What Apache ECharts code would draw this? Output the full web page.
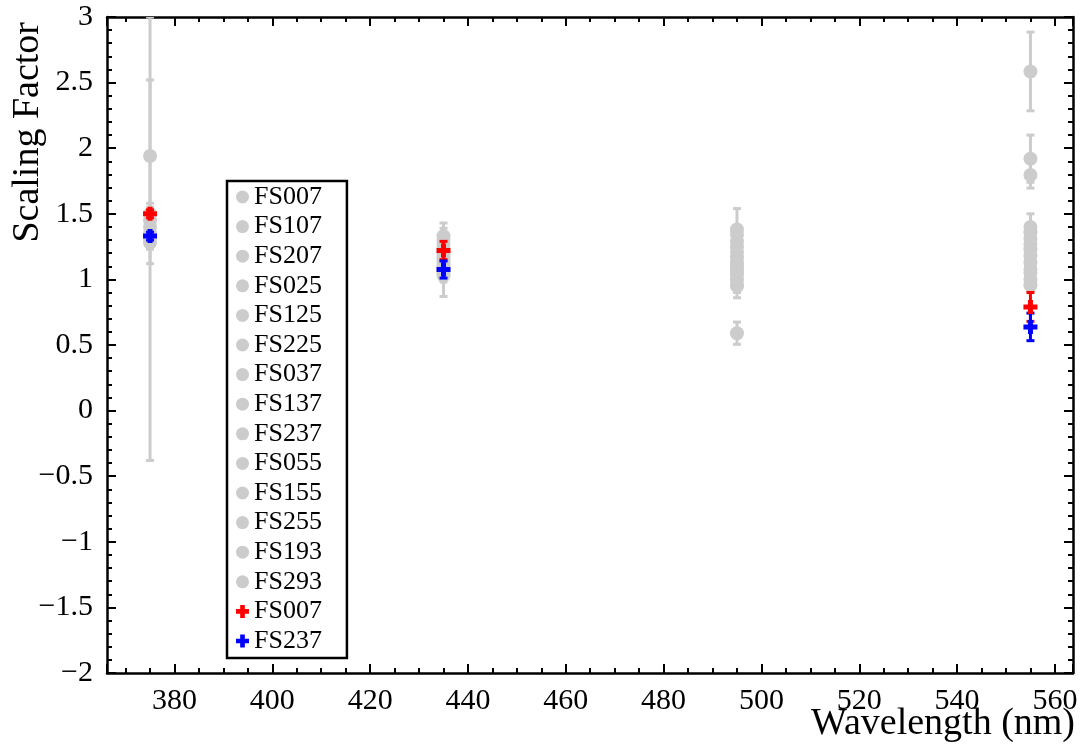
<!DOCTYPE html>
<html>
<head>
<meta charset="utf-8">
<script src="https://cdn.jsdelivr.net/npm/echarts@6/dist/echarts.min.js"></script>
<style>
  html, body { margin: 0; padding: 0; background: #fff; }
  #chart { width: 1083px; height: 747px; }
</style>
</head>
<body>
<div id="chart"></div>
<script>
// Wavelengths of the four filters (nm)
const wavelengths = [375, 435, 495, 555];

// Individual field scaling factors, one value per wavelength (null = no measurement)
const grayNames = ['FS007', 'FS107', 'FS207', 'FS025', 'FS125', 'FS225', 'FS037',
                   'FS137', 'FS237', 'FS055', 'FS155', 'FS255', 'FS193', 'FS293'];
const grayValues = [
  [1.50, 1.30, 1.21, 1.31],
  [1.94, 1.33, 1.38, 2.585],
  [1.45, 1.27, 1.29, 1.36],
  [1.31, 1.15, 1.34, 1.92],
  [1.40, 1.24, 1.17, 1.27],
  [1.35, 1.20, 0.59, 1.796],
  [1.28, 1.10, 1.10, 1.23],
  [null, 1.13, 1.25, 1.40],
  [1.33, 1.07, 1.04, 1.18],
  [null, 1.05, 0.96, 1.13],
  [null, 1.03, 1.07, 1.08],
  [null, 1.17, 1.13, 1.05],
  [null, null, 1.00, 1.00],
  [null, null, 0.95, 0.955]
];
const grayErrors = [
  [0.05, 0.05, 0.06, 0.07],
  [0.58, 0.06, 0.16, 0.30],
  [0.06, 0.05, 0.06, 0.07],
  [1.69, 0.28, 0.07, 0.18],
  [0.05, 0.05, 0.06, 0.07],
  [0.23, 0.05, 0.085, 0.10],
  [0.05, 0.05, 0.06, 0.07],
  [null, 0.05, 0.06, 0.10],
  [0.05, 0.05, 0.06, 0.07],
  [null, 0.05, 0.10, 0.07],
  [null, 0.05, 0.06, 0.07],
  [null, 0.06, 0.06, 0.06],
  [null, null, 0.06, 0.05],
  [null, null, 0.05, 0.04]
];

// Combined fits for two reference fields
const redName = 'FS007';
const redValues = [1.50, 1.22, null, 0.79];
const redErrors = [0.03, 0.07, null, 0.11];
const blueName = 'FS237';
const blueValues = [1.33, 1.075, null, 0.638];
const blueErrors = [0.03, 0.065, null, 0.105];

// Axis ranges
const xRange = [366.2, 563.7];
const yRange = [-2, 3];

const FONT = 'Liberation Serif';
const GRAY = '#cccccc';
const PLUS = 'path://M4.5,0H9.5V4.5H14V9.5H9.5V14H4.5V9.5H0V4.5H4.5Z';

function points(vals) {
  return wavelengths.map((w, i) => vals[i] == null ? null : [w, vals[i]]).filter(Boolean);
}
function bars(vals, errs) {
  return wavelengths.map((w, i) => vals[i] == null ? null : [w, vals[i] - errs[i], vals[i] + errs[i]]).filter(Boolean);
}
function errorBarRenderer(color, width, capHalf) {
  return function (params, api) {
    const x = api.value(0);
    const top = api.coord([x, api.value(2)]);
    const bot = api.coord([x, api.value(1)]);
    const style = { stroke: color, lineWidth: width };
    return {
      type: 'group',
      children: [
        { type: 'line', shape: { x1: top[0], y1: top[1], x2: bot[0], y2: bot[1] }, style },
        { type: 'line', shape: { x1: top[0] - capHalf, y1: top[1], x2: top[0] + capHalf, y2: top[1] }, style },
        { type: 'line', shape: { x1: bot[0] - capHalf, y1: bot[1], x2: bot[0] + capHalf, y2: bot[1] }, style }
      ]
    };
  };
}

const series = [];
grayNames.forEach((name, k) => {
  series.push({
    type: 'custom', name: name + '-err', silent: true, clip: true, z: 2,
    renderItem: errorBarRenderer(GRAY, 3, 4),
    encode: { x: 0, y: [1, 2] },
    data: bars(grayValues[k], grayErrors[k])
  });
  series.push({
    type: 'scatter', name: name, symbol: 'circle', symbolSize: 14, z: 3,
    itemStyle: { color: GRAY, opacity: 1 },
    data: points(grayValues[k])
  });
});
[[redName + ' ', redValues, redErrors, '#ff0000'],
 [blueName + ' ', blueValues, blueErrors, '#0000ff']].forEach(([name, vals, errs, color]) => {
  series.push({
    type: 'custom', name: name + '-err', silent: true, clip: true, z: 4,
    renderItem: errorBarRenderer(color, 3, 4),
    encode: { x: 0, y: [1, 2] },
    data: bars(vals, errs)
  });
  series.push({
    type: 'scatter', name: name, symbol: PLUS, symbolSize: 14, z: 5,
    itemStyle: { color: color, opacity: 1 },
    data: points(vals)
  });
});

const axisLine = { show: true, onZero: false, lineStyle: { color: '#000', width: 2.5 } };
const tick = { show: true, inside: true, length: 9, lineStyle: { color: '#000', width: 2 } };

function xAxis(position, labels) {
  return {
    type: 'value', position, min: xRange[0], max: xRange[1],
    minInterval: 20, maxInterval: 20,
    axisLine, axisTick: tick,
    minorTick: { show: true, splitNumber: 4, length: 5, lineStyle: { color: '#000', width: 2 } },
    splitLine: { show: false }, minorSplitLine: { show: false },
    axisLabel: labels ? {
      show: true, showMinLabel: false, showMaxLabel: false, margin: 13,
      fontFamily: FONT, fontSize: 30, color: '#000'
    } : { show: false }
  };
}
function yAxis(position, labels) {
  return {
    type: 'value', position, min: yRange[0], max: yRange[1], interval: 0.5,
    axisLine, axisTick: tick,
    minorTick: { show: true, splitNumber: 5, length: 5, lineStyle: { color: '#000', width: 2 } },
    splitLine: { show: false }, minorSplitLine: { show: false },
    axisLabel: labels ? {
      show: true, margin: 14, fontFamily: FONT, fontSize: 30, color: '#000',
      formatter: v => String(v).replace('-', '\u2212')
    } : { show: false }
  };
}

const legendData = grayNames.map(n => ({ name: n, icon: 'circle' }))
  .concat([{ name: redName + ' ', icon: PLUS }, { name: blueName + ' ', icon: PLUS }]);

const chart = echarts.init(document.getElementById('chart'), null, { renderer: 'canvas' });
chart.setOption({
  backgroundColor: '#fff',
  animation: false,
  grid: { left: 107, right: 10, top: 17, bottom: 74, containLabel: false, outerBoundsMode: 'none' },
  xAxis: [xAxis('bottom', true), xAxis('top', false)],
  yAxis: [yAxis('left', true), yAxis('right', false)],
  legend: {
    orient: 'vertical', left: 227, top: 181,
    data: legendData, selectedMode: false,
    itemWidth: 13, itemHeight: 13, itemGap: 3.6,
    padding: [3, 25, 4, 9],
    borderColor: '#000', borderWidth: 2.5, backgroundColor: '#fff',
    textStyle: { fontFamily: FONT, fontSize: 26, color: '#000' },
    formatter: n => n.trim()
  },
  graphic: [{
    type: 'text', x: 47, y: 22, rotation: Math.PI / 2,
    style: { text: 'Scaling Factor', font: '38px "Liberation Serif"', fill: '#000', align: 'right', verticalAlign: 'bottom' }
  }, {
    type: 'text', x: 1075, y: 724,
    style: { text: 'Wavelength (nm)', font: '38px "Liberation Serif"', fill: '#000', align: 'right', verticalAlign: 'middle' }
  }],
  series
});
</script>
</body>
</html>
